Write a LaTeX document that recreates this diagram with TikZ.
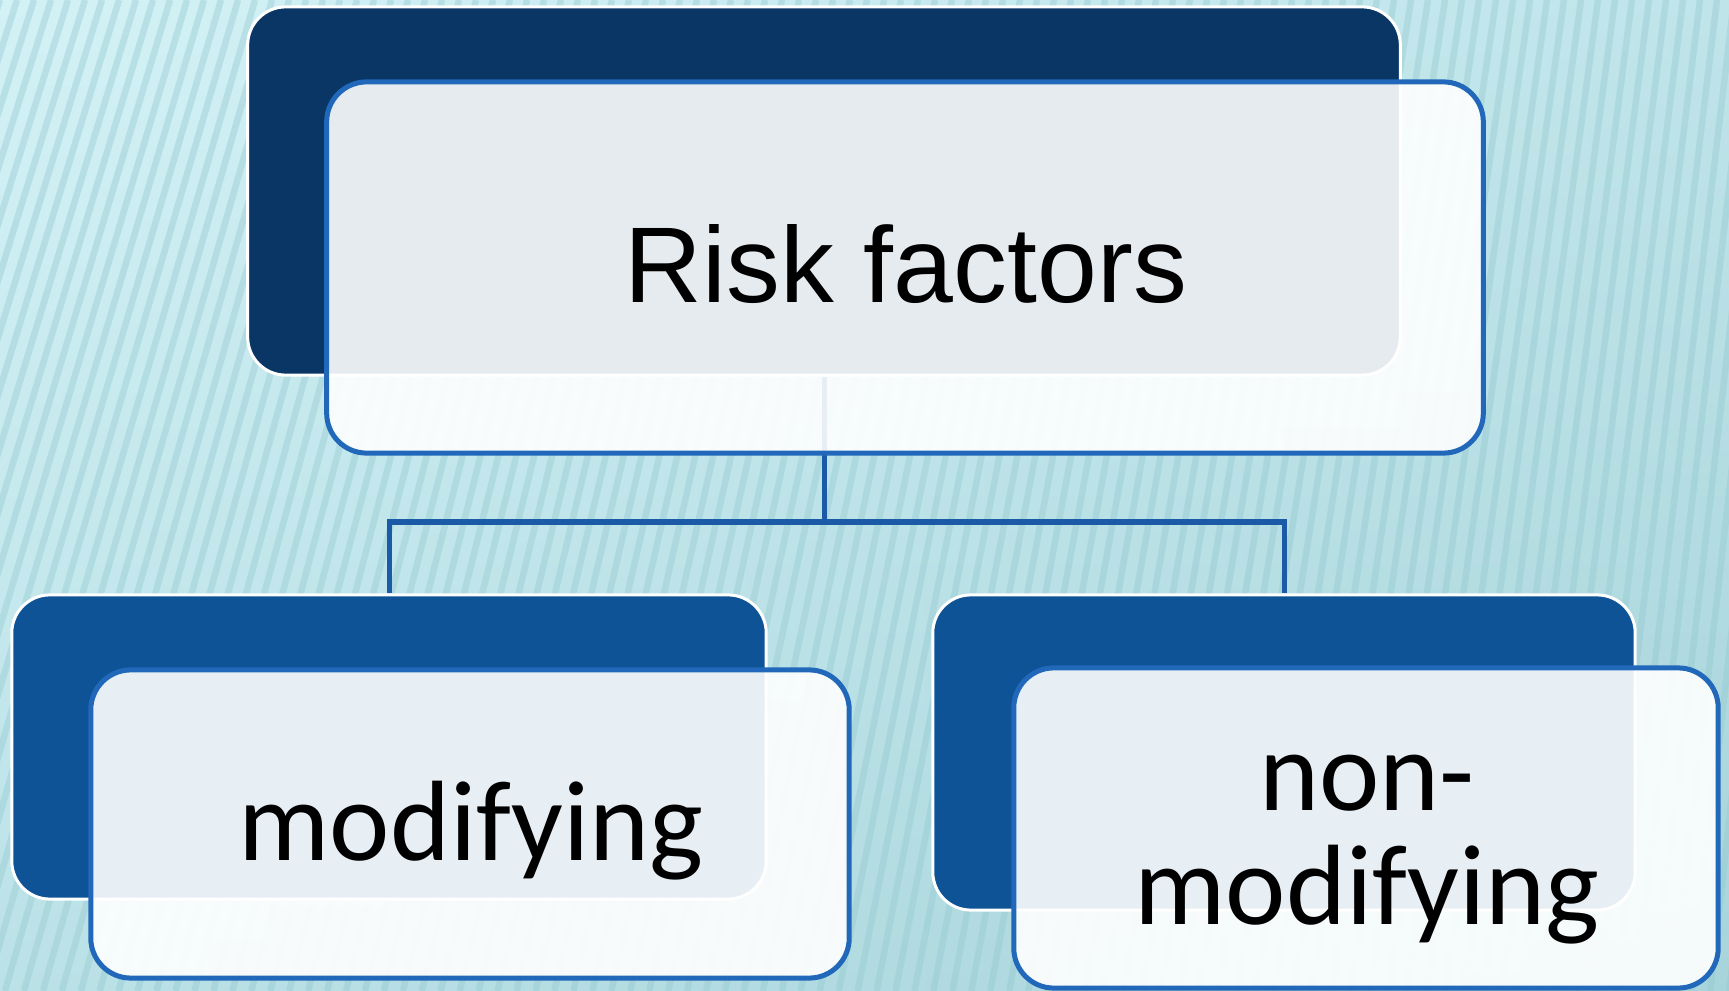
\documentclass[tikz,border=0pt]{standalone}
\usepackage{fontspec}
\setmainfont{Carlito}
\newfontfamily\headfont{Liberation Sans}

\definecolor{navy}{HTML}{0A3665}
\definecolor{midblue}{HTML}{0E5396}
\definecolor{edgeblue}{HTML}{2168BA}
\definecolor{linkblue}{HTML}{1B5AA6}
\definecolor{bgpale}{HTML}{D3F2F6}
\definecolor{bgmid}{HTML}{D9F5F8}
\definecolor{bgdeep}{HTML}{A8D5DB}
\definecolor{stripe}{HTML}{93C8D0}

\pgfdeclarelayer{backdrop}
\pgfdeclarelayer{links}
\pgfsetlayers{backdrop,links,main}

\begin{document}
\begin{tikzpicture}[x=0.01cm,y=-0.01cm,
  backbox/.style={rectangle, rounded corners=0.38cm, draw=white,
    line width=0.03cm, inner sep=0pt},
  frontbox/.style={rectangle, rounded corners=0.4cm, draw=edgeblue,
    line width=0.05cm, fill=white, fill opacity=0.9, draw opacity=1,
    inner sep=0pt},
  link/.style={draw=linkblue, line width=0.05cm},
  headtext/.style={anchor=base, text=black,
    font=\headfont\fontsize{30.6pt}{36pt}\selectfont},
  subtext/.style={anchor=base, text=black, align=center,
    font=\fontsize{32.5pt}{32.4pt}\selectfont}]

\useasboundingbox (0,0) rectangle (1729,991);

% striped cyan backdrop
\begin{pgfonlayer}{backdrop}
\begin{scope}
  \clip (0,0) rectangle (1729,991);
  \shade[top color=bgpale, middle color=bgmid, bottom color=bgdeep]
    (0,0) rectangle (1729,991);
  \shade[left color=bgpale, right color=bgdeep, opacity=0.45]
    (0,0) rectangle (1729,991);
  \foreach \i in {-4,...,110} {
    \pgfmathsetmacro\xt{\i*17}
    \pgfmathsetmacro\xb{\xt-(0.32-0.2*\xt/1729)*991}
    \draw[stripe, line width=0.065cm, opacity=0.4] (\xt,0) -- (\xb,991);
  }
\end{scope}
\end{pgfonlayer}

% dark back panels
\node[backbox, fill=navy, minimum width=11.52cm, minimum height=3.68cm]
  (topback) at (824,191) {};
\node[backbox, fill=midblue, minimum width=7.54cm, minimum height=3.04cm]
  (leftback) at (389,747) {};
\node[backbox, fill=midblue, minimum width=7.02cm, minimum height=3.15cm]
  (rightback) at (1284,752.5) {};

% hierarchy connectors, kept under the panels
\coordinate (fork) at (824,522);
\begin{pgfonlayer}{links}
  \draw[link] (topback.south) -- (fork);
  \draw[link] (leftback.north) |- (fork) -| (rightback.north);
\end{pgfonlayer}

% translucent front panels
\node[frontbox, minimum width=11.56cm, minimum height=3.71cm]
  (topfront) at (905,267.5) {};
\node[frontbox, minimum width=7.58cm, minimum height=3.08cm]
  (leftfront) at (470,824) {};
\node[frontbox, minimum width=7.04cm, minimum height=3.20cm]
  (rightfront) at (1366,828) {};

% labels
\node[headtext] (risk) at (906,303) {Risk factors};
\node[subtext] (mod) at (471,860) {modifying};
\node[subtext] (nonmod) at (1367,924) {non-\\modifying};

\end{tikzpicture}
\end{document}
